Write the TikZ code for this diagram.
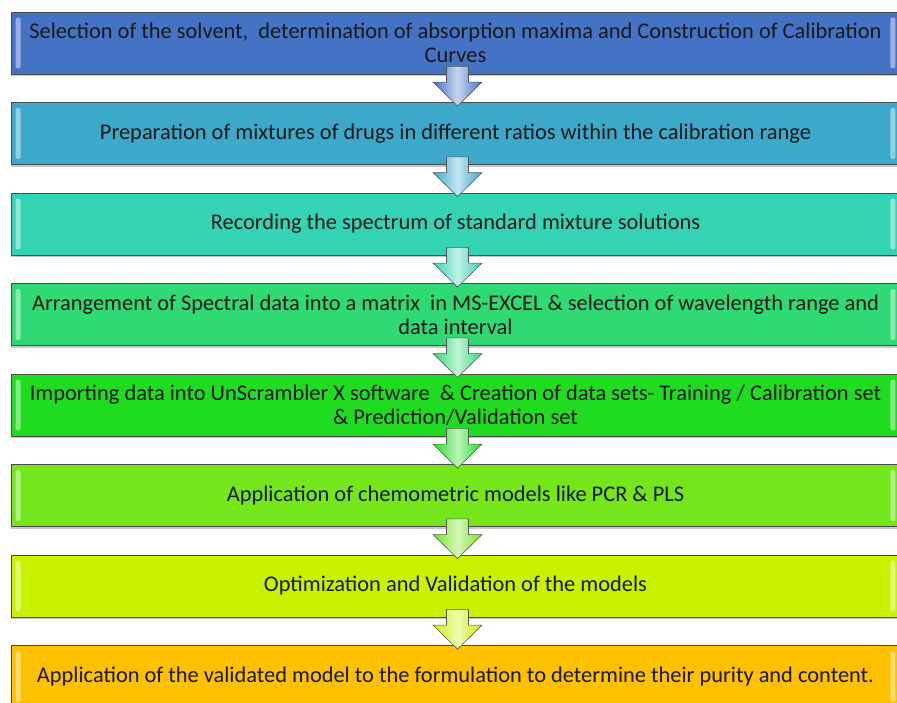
\documentclass[tikz,border=0pt]{standalone}
\usepackage{fontspec}
\setmainfont{Carlito}
\usetikzlibrary{positioning,calc,shadows}

\definecolor{stepA}{HTML}{4472C4}
\definecolor{stepB}{HTML}{3CA9CB}
\definecolor{stepC}{HTML}{34D3B4}
\definecolor{stepD}{HTML}{2FDA75}
\definecolor{stepE}{HTML}{20DC20}
\definecolor{stepF}{HTML}{74E61A}
\definecolor{stepG}{HTML}{CBF100}
\definecolor{stepH}{HTML}{FFC000}

\newcommand\stepfont{\fontsize{22.4}{24}\selectfont}

\tikzset{
  stepbox/.style={draw=black!70, line width=0.8pt, minimum width=889pt, minimum height=62pt,
    text width=885pt, align=flush center, inner sep=0pt, text=black!90,
    font=\stepfont,
    general shadow={fill=black!22, shadow yshift=-2pt}},
  downarrow/.style={draw=black!65, line width=0.6pt, line join=miter},
  bevel/.style={fill=white, opacity=0.45, rounded corners=2pt},
}

\begin{document}
\begin{tikzpicture}[x=1pt,y=-1pt]
  \useasboundingbox (0,0) rectangle (897,702);

  \node[stepbox, fill=stepA] (s1) at (455.5,43) {Selection of the solvent,~ determination of absorption maxima and Construction of Calibration\\ Curves};
  \node[stepbox, fill=stepB, below=27.7pt of s1] (s2) {Preparation of mixtures of drugs in different ratios within the calibration range};
  \node[stepbox, fill=stepC, below=27.7pt of s2] (s3) {Recording the spectrum of standard mixture solutions};
  \node[stepbox, fill=stepD, below=27.7pt of s3] (s4) {Arrangement of Spectral data into a matrix~ in MS-EXCEL \& selection of wavelength range and\\ data interval};
  \node[stepbox, fill=stepE, below=27.7pt of s4] (s5) {Importing data into UnScrambler X software~ \& Creation of data sets- Training / Calibration set\\ \& Prediction/Validation set};
  \node[stepbox, fill=stepF, below=27.7pt of s5] (s6) {Application of chemometric models like PCR \& PLS};
  \node[stepbox, fill=stepG, below=27.7pt of s6] (s7) {Optimization and Validation of the models};
  \node[stepbox, fill=stepH, below=27.7pt of s7] (s8) {Application of the validated model to the formulation to determine their purity and content.};

  % light bevel on both ends of every box
  \foreach \s in {s1,s2,s3,s4,s5,s6,s7,s8}{
    \fill[bevel] ([xshift=5pt,yshift=-6pt]\s.north west) rectangle ([xshift=10pt,yshift=6pt]\s.south west);
    \fill[bevel] ([xshift=-10pt,yshift=-6pt]\s.north east) rectangle ([xshift=-5pt,yshift=6pt]\s.south east);
  }

  % block arrows between the steps
  \foreach \a/\b/\c in {s1/s2/stepA,s2/s3/stepB,s3/s4/stepC,s4/s5/stepD,s5/s6/stepE,s6/s7/stepF,s7/s8/stepG}{
    \draw[downarrow, left color=\c, right color=\c, middle color=\c!30!white]
      ([xshift=-9pt,yshift=8pt]\a.south) -- ([xshift=-9pt,yshift=20pt]\b.north)
      -- ([xshift=-22.5pt,yshift=20pt]\b.north) -- ([xshift=2pt,yshift=-4pt]\b.north)
      -- ([xshift=26.5pt,yshift=20pt]\b.north) -- ([xshift=13pt,yshift=20pt]\b.north)
      -- ([xshift=13pt,yshift=8pt]\a.south) -- cycle;
  }
\end{tikzpicture}
\end{document}
